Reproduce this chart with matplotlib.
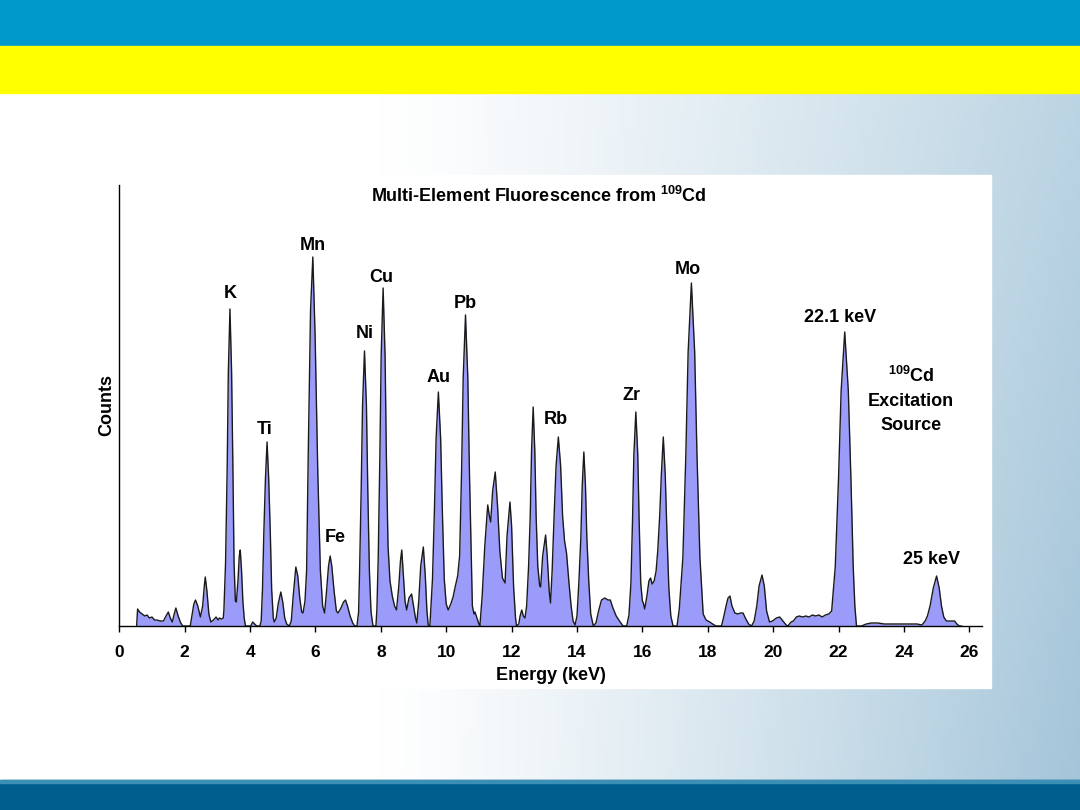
import numpy as np
import matplotlib.pyplot as plt
from matplotlib.patches import Rectangle

plt.rcParams['font.family'] = ['Liberation Sans', 'DejaVu Sans']
plt.rcParams['mathtext.fontset'] = 'custom'
plt.rcParams['mathtext.rm'] = 'Liberation Sans:bold'
plt.rcParams['mathtext.bf'] = 'Liberation Sans:bold'
plt.rcParams['mathtext.default'] = 'bf'

# Spectrum: energy (keV) and counts (arbitrary units)
energy = [
    # 0.5 - 3.2 keV, low lines
    0.53, 0.56, 0.62, 0.70, 0.78, 0.85, 0.92, 1.00, 1.08, 1.15, 1.25, 1.35, 1.43, 1.50,
    1.56, 1.62, 1.68, 1.73, 1.80, 1.88, 1.94, 2.17, 2.22, 2.28, 2.33, 2.40, 2.48, 2.55,
    2.60, 2.63, 2.68, 2.74, 2.80, 2.88, 2.96, 3.02, 3.06, 3.12, 3.18,
    # K
    3.20, 3.25, 3.30, 3.335, 3.385, 3.435, 3.475, 3.51, 3.55, 3.58, 3.63, 3.67, 3.70,
    3.74, 3.78, 3.82, 3.86, 4.02, 4.08, 4.14, 4.20, 4.30,
    # Ti
    4.34, 4.38, 4.42, 4.47, 4.52, 4.57, 4.62, 4.66, 4.71, 4.74, 4.80, 4.86, 4.94, 5.00,
    5.06, 5.12, 5.20, 5.26, 5.32, 5.40, 5.46, 5.52, 5.58, 5.62,
    # Mn, Fe
    5.68, 5.73, 5.78, 5.85, 5.92, 5.99, 6.07, 6.15, 6.22, 6.28, 6.34, 6.40, 6.45, 6.50,
    6.57, 6.64, 6.69, 6.78, 6.86, 6.92, 6.98, 7.06, 7.14, 7.20,
    # Ni, Cu
    7.27, 7.32, 7.35, 7.40, 7.44, 7.50, 7.56, 7.60, 7.65, 7.70, 7.76, 7.85, 7.88, 7.92,
    7.97, 8.01, 8.07, 8.13, 8.17, 8.22, 8.28, 8.35, 8.42, 8.48, 8.55, 8.60, 8.64, 8.69,
    8.74, 8.79, 8.86, 8.94, 9.00, 9.06, 9.10, 9.16, 9.22, 9.30, 9.36, 9.41, 9.45, 9.50,
    # Au, Pb
    9.52, 9.58, 9.64, 9.69, 9.76, 9.83, 9.88, 9.94, 10.00, 10.06, 10.14, 10.21, 10.28,
    10.35, 10.41, 10.47, 10.52, 10.59, 10.66, 10.71, 10.77, 10.80, 10.85, 10.88, 10.94,
    11.00, 11.03,
    # 11 - 12.4 keV
    11.10, 11.18, 11.27, 11.32, 11.36, 11.42, 11.50, 11.57, 11.64, 11.72, 11.80, 11.86,
    11.95, 12.00, 12.06, 12.12, 12.15, 12.22, 12.26, 12.31, 12.36, 12.41,
    # 12.66, Rb, 14.2
    12.46, 12.52, 12.57, 12.61, 12.66, 12.71, 12.75, 12.80, 12.86, 12.89, 12.95, 13.04,
    13.09, 13.15, 13.19, 13.24, 13.30, 13.36, 13.43, 13.50, 13.56, 13.62, 13.68, 13.75,
    13.82, 13.88, 13.94, 14.00, 14.06, 14.12, 14.16, 14.21, 14.26, 14.30, 14.36, 14.42,
    14.50, 14.58, 14.66, 14.75, 14.85, 14.95, 15.02, 15.10, 15.20, 15.30, 15.41, 15.52,
    # Zr, 16.6
    15.59, 15.65, 15.70, 15.74, 15.80, 15.86, 15.90, 15.95, 16.00, 16.03, 16.07, 16.14,
    16.20, 16.25, 16.30, 16.36, 16.42, 16.47, 16.53, 16.58, 16.64, 16.70, 16.75, 16.81,
    16.87, 16.94, 17.06,
    # Mo
    17.13, 17.24, 17.33, 17.40, 17.50, 17.60, 17.67, 17.76, 17.86, 17.95, 18.06, 18.15,
    18.25, 18.42, 18.48, 18.56, 18.62, 18.68, 18.74, 18.83, 18.92, 19.00, 19.08, 19.15,
    19.25, 19.34,
    # 19.7 - 21.7 keV
    19.42, 19.50, 19.57, 19.66, 19.73, 19.80, 19.89, 19.98, 20.10, 20.20, 20.30, 20.40,
    20.45, 20.55, 20.62, 20.71, 20.80, 20.90, 21.00, 21.10, 21.20, 21.30, 21.40, 21.50,
    21.60, 21.70,
    # 22.1 keV source line
    21.79, 21.90, 22.00, 22.08, 22.19, 22.30, 22.38, 22.45, 22.50, 22.55, 22.70, 22.85,
    23.00, 23.20, 23.40, 23.60, 23.80, 24.00, 24.20, 24.40, 24.55, 24.65,
    # 25 keV source line
    24.72, 24.80, 24.90, 25.00, 25.08, 25.15, 25.22, 25.30, 25.40, 25.50, 25.55, 25.62,
    25.70, 25.76,
]
counts = [
    0, 17, 14, 12, 10, 11, 8, 9, 6, 6, 5, 5, 10, 14,
    8, 4, 12, 18, 10, 3, 0, 0, 10, 22, 26, 20, 9, 20,
    40, 49, 35, 12, 4, 6, 9, 6, 8, 7, 8,
    16, 63, 158, 254, 317, 254, 158, 63, 25, 24, 45, 70, 76,
    55, 25, 8, 0, 0, 4, 2, 0, 0,
    5, 37, 92, 147, 184, 147, 92, 37, 8, 4, 8, 22, 34, 24,
    8, 2, 0, 5, 30, 59, 50, 28, 14, 13,
    25, 56, 173, 316, 369, 290, 156, 56, 20, 13, 35, 60, 70, 60,
    35, 15, 13, 18, 24, 26, 20, 10, 3, 0,
    0, 14, 55, 138, 220, 275, 220, 138, 55, 14, 0, 0, 17, 68,
    169, 270, 338, 270, 169, 80, 45, 30, 20, 16, 40, 65, 76, 50,
    25, 16, 28, 32, 20, 8, 3, 25, 60, 79, 50, 15, 1, 0,
    12, 47, 117, 187, 234, 187, 117, 47, 22, 16, 22, 29, 40,
    50, 70, 155, 249, 311, 249, 155, 62, 20, 12, 14, 8,
    2, 0,
    30, 80, 121, 110, 104, 135, 154, 120, 75, 48, 43, 90,
    124, 100, 40, 8, 0, 2, 10, 16, 10, 8,
    20, 60, 110, 175, 219, 175, 110, 60, 40, 39, 70, 91,
    70, 35, 23, 55, 110, 160, 189, 160, 110, 85, 73, 45,
    20, 5, 1, 10, 45, 90, 140, 174, 140, 90, 45, 12,
    0, 3, 15, 26, 28, 26, 26, 18, 10, 5, 0, 0,
    11, 43, 107, 171, 214, 171, 107, 43, 25, 23, 17, 30,
    45, 48, 42, 45, 55, 75, 110, 151, 189, 151, 95, 38,
    10, 0, 0,
    17, 69, 172, 274, 343, 274, 172, 69, 12, 6, 4, 2,
    0, 0, 8, 20, 28, 30, 20, 13, 12, 13, 13, 8,
    2, 0,
    5, 20, 40, 51, 40, 15, 4, 5, 8, 9, 5, 1,
    0, 4, 5, 9, 10, 9, 10, 9, 11, 10, 11, 9,
    11, 12,
    15, 59, 147, 235, 294, 235, 147, 59, 20, 0, 0, 2,
    3, 3, 2, 2, 2, 2, 2, 2, 1, 5,
    10, 20, 38, 50, 38, 20, 9, 5, 5, 5, 5, 2,
    0, 0,
]

peak_labels = ['K', 'Ti', 'Mn', 'Fe', 'Ni', 'Cu', 'Au', 'Pb', 'Rb', 'Zr', 'Mo',
               '22.1 keV', r'$^{109}$Cd', 'Excitation', 'Source', '25 keV']
label_energy = [3.39, 4.46, 5.92, 6.60, 7.51, 8.00, 9.78, 10.57, 13.35, 15.68, 17.40,
                22.05, 24.22, 24.22, 24.22, 24.84]
label_counts = [333, 197, 381, 88, 293, 349, 248, 323, 206, 231, 356,
                309, 250, 225, 201, 66]

x_ticks = list(range(0, 27, 2))

W, H = 1080, 810
fig = plt.figure(figsize=(10.8, 8.1), dpi=100)

# slide background: white to pale blue, header bars, footer bar, white chart panel
bg = fig.add_axes([0, 0, 1, 1], zorder=-10)
gx, gy = np.meshgrid(np.linspace(0, 1, 216), np.linspace(0, 1, 162))
t = np.clip((gx - 0.35) / 0.65, 0, 1) ** 1.2 * (0.7 + 0.3 * gy)
white = np.array([1.0, 1.0, 1.0])
pale = np.array([0.64, 0.77, 0.85])
bg.imshow(white + (pale - white) * t[..., None], extent=[0, W, H, 0], aspect='auto')
bg.add_patch(Rectangle((0, 0), W, 46, color='#0099CC'))
bg.add_patch(Rectangle((0, 46), W, 47, color='#FFFF00'))
bg.add_patch(Rectangle((0, 780), W, 30, color='#005E8E'))
bg.add_patch(Rectangle((0, 780), W, 3, color='#3B8FB4'))
bg.add_patch(Rectangle((93, 175), 898, 513, color='white'))
bg.set_xlim(0, W)
bg.set_ylim(H, 0)
bg.axis('off')

# the spectrum axes
ax = fig.add_axes([119.3 / W, 1 - 626 / H, (981.7 - 119.3) / W, (626 - 185) / H])
ax.patch.set_visible(False)
ax.fill_between(energy, counts, color='#9B9BFA', lw=0)
ax.plot(energy, counts, color='#1a1a1a', lw=1.0)
ax.set_xlim(0, 26.38)
ax.set_ylim(0, 441)

ax.spines['top'].set_visible(False)
ax.spines['right'].set_visible(False)
ax.spines['left'].set_linewidth(1)
ax.spines['bottom'].set_linewidth(1)
ax.set_yticks([])
ax.set_xticks(x_ticks)
ax.tick_params(axis='x', direction='out', length=4.5, width=1, labelsize=12.5, pad=9)
for lbl in ax.get_xticklabels():
    lbl.set_fontweight('bold')

for name, e, c in zip(peak_labels, label_energy, label_counts):
    ax.text(e, c, name, ha='center', va='center', fontsize=13, fontweight='bold')

fig.text(539 / W, 1 - 196 / H, r'Multi-Element Fluorescence from $^{109}$Cd',
         ha='center', va='center', fontsize=13, fontweight='bold')
fig.text(551 / W, 1 - 676 / H, 'Energy (keV)', ha='center', va='center',
         fontsize=13, fontweight='bold')
fig.text(107 / W, 1 - 405 / H, 'Counts', ha='center', va='center', rotation=90,
         fontsize=13, fontweight='bold')

fig.savefig('out.png', dpi=100)
